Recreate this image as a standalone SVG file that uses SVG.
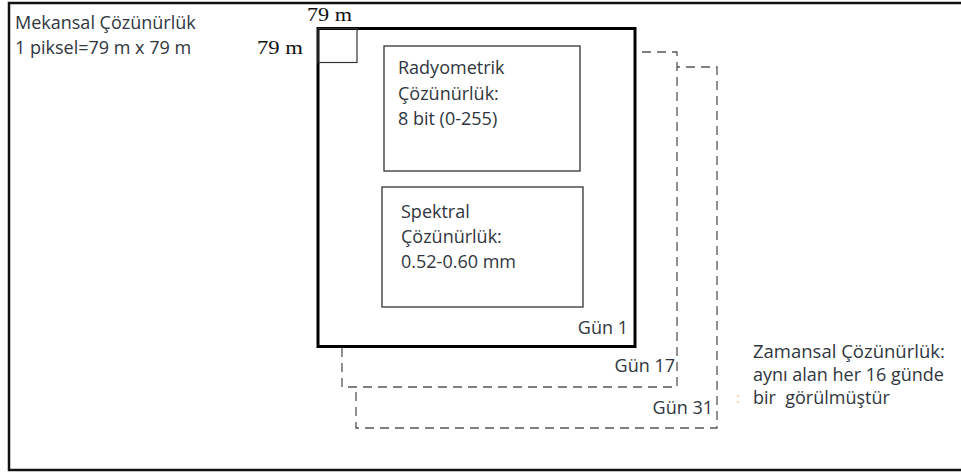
<svg xmlns="http://www.w3.org/2000/svg" width="961" height="472" viewBox="0 0 961 472">
<style>
.t{font-family:"Open Sans","Liberation Sans",sans-serif;font-size:18px;fill:#2f3640}
.s{font-family:"Liberation Serif","Times New Roman",serif;font-size:19px;fill:#111}
.dash{fill:#fff;stroke:#555;stroke-width:1.3;stroke-dasharray:9 6}
.box{fill:#fff;stroke:#333;stroke-width:1.3}
</style>
<rect width="961" height="472" fill="#fff"/>
<rect id="frame" x="9" y="3" width="970" height="467" fill="none" stroke="#111" stroke-width="2.5"/>
<g id="labels-left">
<text class="t" x="15" y="29">Mekansal Çözünürlük</text>
<text class="t" x="15" y="54">1 piksel=79 m x 79 m</text>
<text class="s" x="307" y="21" textLength="45" lengthAdjust="spacingAndGlyphs">79 m</text>
<text class="s" x="257" y="54" textLength="46" lengthAdjust="spacingAndGlyphs">79 m</text>
</g>
<g id="day31">
<rect class="dash" x="356" y="67" width="361" height="361"/>
<text class="t" x="713" y="414" text-anchor="end">Gün 31</text>
</g>
<g id="day17">
<rect class="dash" x="342" y="52" width="335" height="335"/>
<text class="t" x="675" y="372" text-anchor="end">Gün 17</text>
</g>
<g id="day1">
<rect x="318" y="28.5" width="317" height="318" fill="#fff" stroke="#000" stroke-width="3"/>
<rect x="318" y="28.5" width="39" height="34" fill="none" stroke="#333" stroke-width="1.2"/>
<text class="t" x="628" y="334" text-anchor="end">Gün 1</text>
</g>
<g id="radiometric">
<rect class="box" x="384" y="46" width="196" height="125"/>
<text class="t" x="398" y="74">Radyometrik</text>
<text class="t" x="398" y="100">Çözünürlük:</text>
<text class="t" x="398" y="125">8 bit (0-255)</text>
</g>
<g id="spectral">
<rect class="box" x="382" y="187" width="201" height="120"/>
<text class="t" x="401" y="218">Spektral</text>
<text class="t" x="401" y="243">Çözünürlük:</text>
<text class="t" x="401" y="268">0.52-0.60 mm</text>
</g>
<g id="temporal">
<text class="t" x="753" y="358" style="font-size:18.5px">Zamansal Çözünürlük:</text>
<text class="t" x="753" y="381">aynı alan her 16 günde</text>
<text class="t" x="753" y="404" xml:space="preserve">bir  görülmüştür</text>
<circle cx="738" cy="396" r="0.9" fill="#f3c37a"/>
<circle cx="738" cy="402" r="0.9" fill="#f3c37a"/>
</g>
</svg>
